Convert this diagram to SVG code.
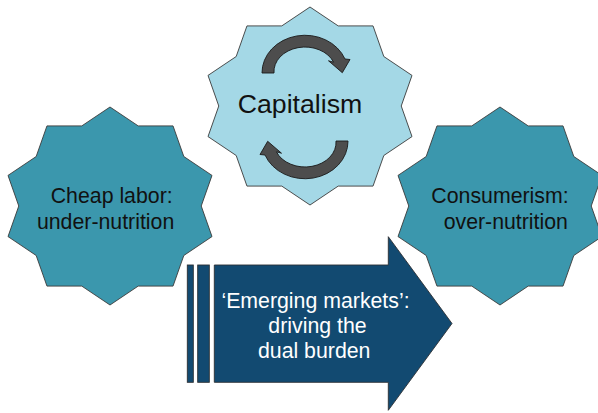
<svg xmlns="http://www.w3.org/2000/svg" xmlns:xlink="http://www.w3.org/1999/xlink" width="598" height="413" viewBox="0 0 598 413">
  <style>
    .star-light { fill: #A4D8E6; stroke: #3a3a3a; stroke-width: 0.9; }
    .star-teal { fill: #3B97AD; stroke: #3a3a3a; stroke-width: 0.9; }
    .cycle { fill: #4D4D4D; stroke: #1a1a1a; stroke-width: 0.9; stroke-linejoin: miter; }
    .big-arrow { fill: #124A71; stroke: #2b2f33; stroke-width: 0.9; }
    .lbl { font-family: "Liberation Sans", Arial, sans-serif; font-size: 21.3px; fill: #111; text-anchor: middle; }
    .lbl-w { font-family: "Liberation Sans", Arial, sans-serif; font-size: 21.3px; fill: #ffffff; text-anchor: middle; }
    .title { font-family: "Liberation Sans", Arial, sans-serif; font-size: 26.7px; fill: #111; text-anchor: middle; }
  </style>
  <defs>
    <polygon id="star10" points="0,-99 28.19,-80.1 63.04,-80.09 73.81,-49.5 102,-30.59 91.23,0 102,30.59 73.81,49.5 63.04,80.09 28.19,80.1 0,99 -28.19,80.1 -63.04,80.09 -73.81,49.5 -102,30.59 -91.23,0 -102,-30.59 -73.81,-49.5 -63.04,-80.09 -28.19,-80.1"/>
    <path id="cyc" d="M262,73 A43,37.5 0 0 1 345,59 L350,59.5 L342.3,72.7 L328.5,60.8 L333.6,62.2 A31,24.5 0 0 0 274,73 Z"/>
  </defs>

  <g id="node-capitalism">
    <use xlink:href="#star10" href="#star10" class="star-light" transform="translate(310,106)"/>
    <text class="title" x="300" y="113">Capitalism</text>
  </g>

  <g id="node-cheap-labor">
    <use xlink:href="#star10" href="#star10" class="star-teal" transform="translate(110,206)"/>
    <text class="lbl" x="111.7" y="203">Cheap labor:</text>
    <text class="lbl" x="105.6" y="229">under-nutrition</text>
  </g>

  <g id="node-consumerism">
    <use xlink:href="#star10" href="#star10" class="star-teal" transform="translate(500,206)"/>
    <text class="lbl" x="500" y="203">Consumerism:</text>
    <text class="lbl" x="505.8" y="229">over-nutrition</text>
  </g>

  <g id="node-emerging-markets">
    <rect class="big-arrow" x="187.3" y="265" width="6" height="117.3"/>
    <rect class="big-arrow" x="197.7" y="265" width="11.6" height="117.3"/>
    <polygon class="big-arrow" points="214.3,265 388.3,265 388.3,236.7 452,323.5 388.3,410.3 388.3,382.3 214.3,382.3"/>
    <text class="lbl-w" x="315.5" y="308.3">‘Emerging markets’:</text>
    <text class="lbl-w" x="317.5" y="333.3">driving the</text>
    <text class="lbl-w" x="314.2" y="358.3">dual burden</text>
  </g>

  <g id="connectors">
    <use xlink:href="#cyc" href="#cyc" class="cycle"/>
    <use xlink:href="#cyc" href="#cyc" class="cycle" transform="rotate(180 305 107)"/>
  </g>
</svg>
